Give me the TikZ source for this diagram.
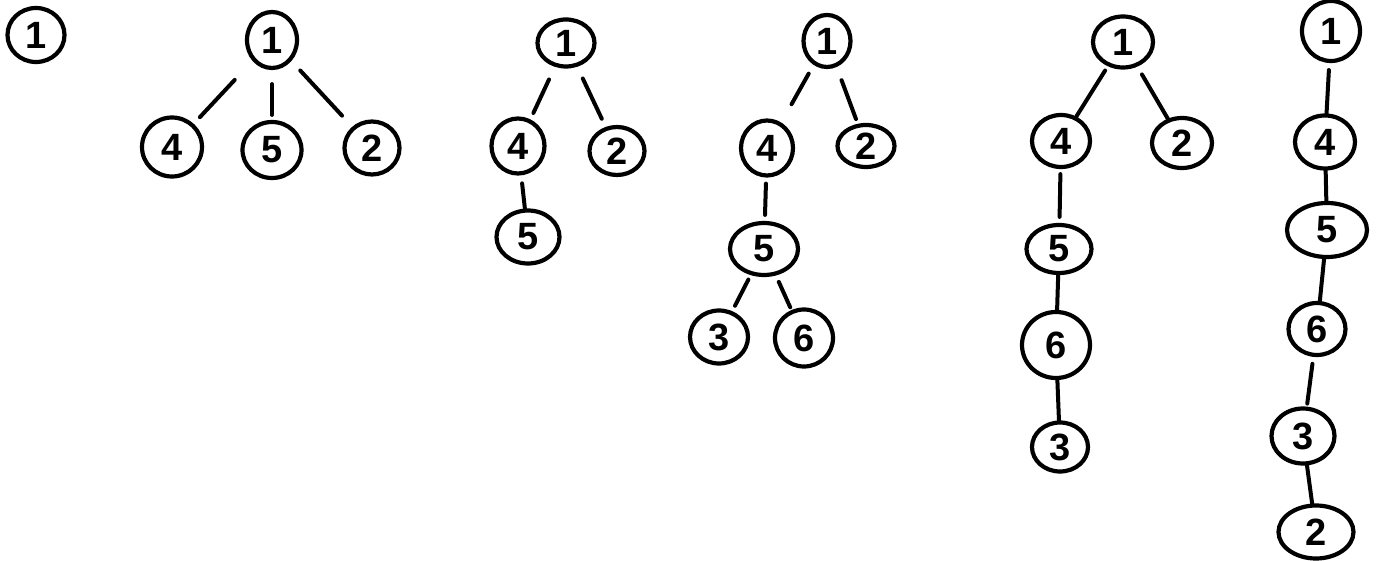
\documentclass[tikz,border=0pt]{standalone}
\usepackage{fontspec}
\setmainfont{Liberation Sans}
\usetikzlibrary{shapes.geometric}
\begin{document}
\begin{tikzpicture}[x=1pt,y=-1pt,
  vtx/.style={draw=black, line width=4.2pt, ellipse, inner sep=0pt,
    font=\fontsize{38}{38}\selectfont\bfseries},
  edge/.style={draw=black, line width=4pt, line cap=round}]
\useasboundingbox (0,0) rectangle (1377,561);
% tree 0
\node[vtx, minimum width=57pt, minimum height=54pt] (a1) at (36,35) {1};
% tree 1
\node[vtx, minimum width=50pt, minimum height=56pt] (b1) at (272,40) {1};
\node[vtx, minimum width=60pt, minimum height=59pt] (b4) at (172,147) {4};
\node[vtx, minimum width=59pt, minimum height=56pt] (b5) at (272,150) {5};
\node[vtx, minimum width=55pt, minimum height=53pt] (b2) at (372,148) {2};
\draw[edge, shorten <=26pt, shorten >=9pt] (b1) -- (b4);
\draw[edge, shorten <=14pt, shorten >=5pt] (b1) -- (b5);
\draw[edge, shorten <=13pt, shorten >=15pt] (b1) -- (b2);
% tree 2
\node[vtx, minimum width=57pt, minimum height=47pt] (c1) at (566,43) {1};
\node[vtx, minimum width=53pt, minimum height=55pt] (c4) at (518,146) {4};
\node[vtx, minimum width=55pt, minimum height=48pt] (c2) at (617,151) {2};
\node[vtx, minimum width=63pt, minimum height=53pt] (c5) at (528,237) {5};
\draw[edge, shorten <=14pt, shorten >=7pt] (c1) -- (c4);
\draw[edge, shorten <=13pt, shorten >=9pt] (c1) -- (c2);
\draw[edge, shorten <=8pt] (c4) -- (c5);
% tree 3
\node[vtx, minimum width=47pt, minimum height=52pt] (d1) at (827,41) {1};
\node[vtx, minimum width=52pt, minimum height=55pt] (d4) at (767,148) {4};
\node[vtx, minimum width=57pt, minimum height=42pt] (d2) at (866,146) {2};
\node[vtx, minimum width=68pt, minimum height=52pt] (d5) at (764,249) {5};
\node[vtx, minimum width=58pt, minimum height=53pt] (d3) at (719,337) {3};
\node[vtx, minimum width=58pt, minimum height=57pt] (d6) at (804,338) {6};
\draw[edge, shorten <=10pt, shorten >=21pt] (d1) -- (d4);
\draw[edge, shorten <=14pt, shorten >=5pt] (d1) -- (d2);
\draw[edge, shorten <=6pt, shorten >=6pt] (d4) -- (d5);
\draw[edge, shorten <=5pt, shorten >=6pt] (d5) -- (d3);
\draw[edge, shorten <=7pt, shorten >=3pt] (d5) -- (d6);
% tree 4
\node[vtx, minimum width=60pt, minimum height=51pt] (e1) at (1123,42) {1};
\node[vtx, minimum width=58pt, minimum height=52pt] (e4) at (1061,141) {4};
\node[vtx, minimum width=60pt, minimum height=50pt] (e2) at (1182,143) {2};
\node[vtx, minimum width=65pt, minimum height=48pt] (e5) at (1059,249) {5};
\node[vtx, minimum width=68pt, minimum height=66pt] (e6) at (1056,345) {6};
\node[vtx, minimum width=56pt, minimum height=49pt] (e3) at (1060,447) {3};
\draw[edge, shorten <=5pt] (e1) -- (e4);
\draw[edge, shorten <=9pt] (e1) -- (e2);
\draw[edge, shorten <=5pt, shorten >=6pt] (e4) -- (e5);
\draw[edge] (e5) -- (e6);
\draw[edge] (e6) -- (e3);
% tree 5
\node[vtx, minimum width=58pt, minimum height=60pt] (f1) at (1331,31) {1};
\node[vtx, minimum width=60pt, minimum height=53pt] (f4) at (1325,142) {4};
\node[vtx, minimum width=80pt, minimum height=54pt] (f5) at (1327,230) {5};
\node[vtx, minimum width=57pt, minimum height=52pt] (f6) at (1317,329) {6};
\node[vtx, minimum width=63pt, minimum height=55pt] (f3) at (1303,436) {3};
\node[vtx, minimum width=75pt, minimum height=53pt] (f2) at (1316,532) {2};
\draw[edge, shorten <=7pt] (f1) -- (f4);
\draw[edge] (f4) -- (f5);
\draw[edge] (f5) -- (f6);
\draw[edge, shorten <=7pt, shorten >=3pt] (f6) -- (f3);
\draw[edge] (f3) -- (f2);
\end{tikzpicture}
\end{document}
